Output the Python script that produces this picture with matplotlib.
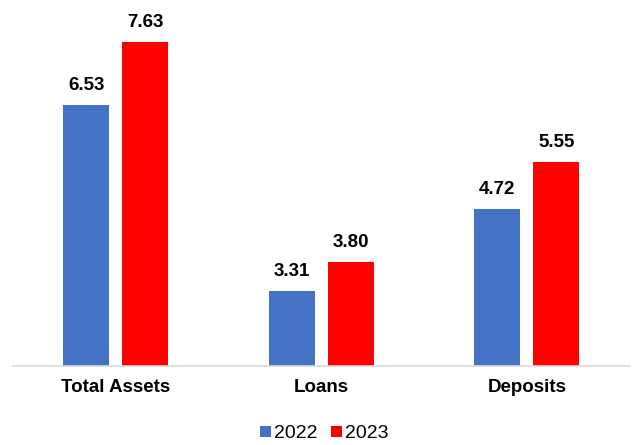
import numpy as np
import matplotlib
matplotlib.use("Agg")
import matplotlib.pyplot as plt

plt.rcParams['font.family'] = ['Liberation Sans', 'DejaVu Sans']

categories = ['Total Assets', 'Loans', 'Deposits']
years = ['2022', '2023']
values_2022 = [6.53, 3.31, 4.72]
values_2023 = [7.63, 3.80, 5.55]

blue = '#4472C4'
red = '#FF0000'

fig = plt.figure(figsize=(6.32, 4.45), dpi=100)
ax = fig.add_axes([0.0206, 0.1775, 0.9755, 0.7766])

x = np.arange(len(categories))
width = 0.224
offset = 0.1436

bars1 = ax.bar(x - offset, values_2022, width, color=blue, label=years[0])
bars2 = ax.bar(x + offset, values_2023, width, color=red, label=years[1])

# value labels above every bar
for bars in (bars1, bars2):
    for bar in bars:
        h = bar.get_height()
        ax.annotate(f"{h:.2f}", (bar.get_x() + bar.get_width() / 2, h),
                    xytext=(0, 10.8), textcoords='offset points',
                    ha='center', va='baseline', fontsize=13.5, fontweight='bold')

ax.set_xlim(-0.5, 2.5)
ax.set_ylim(2, 8)
ax.set_xticks(x)
ax.set_xticklabels(categories, fontsize=13.5, fontweight='bold')
ax.tick_params(axis='x', length=0, pad=9)
ax.set_yticks([])

for side in ['top', 'right', 'left']:
    ax.spines[side].set_visible(False)
ax.spines['bottom'].set_color('#d9d9d9')
ax.spines['bottom'].set_linewidth(1.2)

fig.legend(loc='center', bbox_to_anchor=(0.513, 0.025), ncol=2, frameon=False,
           fontsize=14, handlelength=0.55, handleheight=0.55,
           handletextpad=0.15, columnspacing=0.7)

fig.savefig("out.png", dpi=100)
